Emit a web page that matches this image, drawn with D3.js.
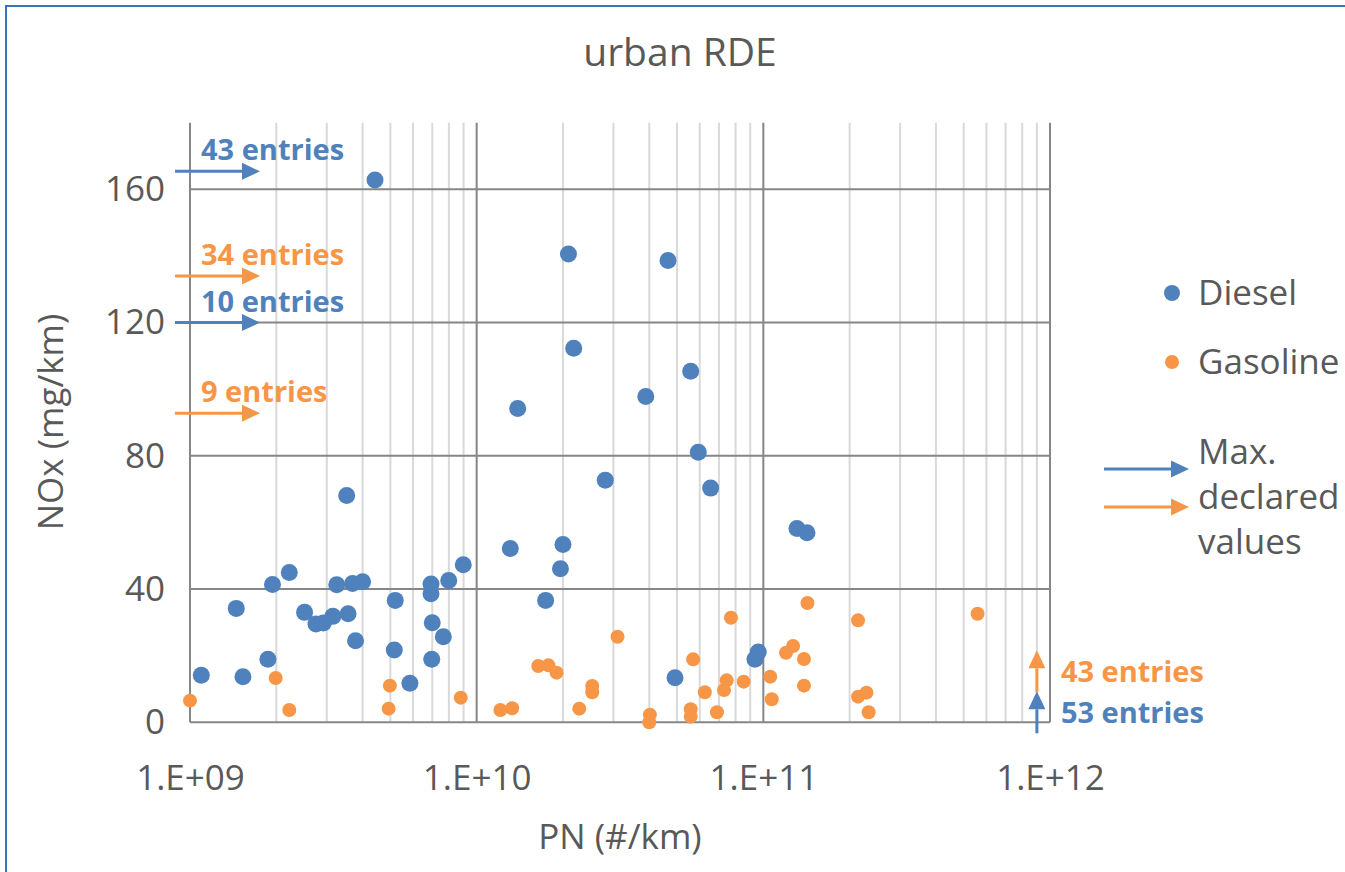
<!DOCTYPE html>
<html>
<head>
<meta charset="utf-8">
<script src="https://cdn.jsdelivr.net/npm/d3@7/dist/d3.min.js"></script>
<style>
body { margin: 0; background: #fff; }
text { font-family: "Open Sans", sans-serif; fill: #595959; }
</style>
</head>
<body>
<svg id="svg1" width="1345" height="872"></svg>
<script>
// PN (#/km) and NOx (mg/km)
var dieselPN = [4.42e9, 2.09e10, 4.65e10, 2.18e10, 5.58e10, 3.89e10, 1.39e10, 5.93e10, 6.55e10, 2.81e10,
    3.52e9, 1.31e11, 1.42e11, 2.0e10, 1.31e10, 1.96e10, 1.74e10, 8.98e9, 2.22e9, 1.94e9,
    3.25e9, 3.69e9, 4.0e9, 6.93e9, 6.93e9, 7.99e9, 1.45e9, 2.51e9, 2.75e9, 2.92e9,
    3.15e9, 3.56e9, 5.2e9, 7.0e9, 7.65e9, 3.78e9, 5.16e9, 6.97e9, 1.87e9, 1.095e9,
    1.53e9, 5.85e9, 4.92e10, 9.6e10, 9.35e10];
var dieselNOx = [162.8, 140.6, 138.6, 112.3, 105.4, 97.8, 94.2, 81.1, 70.3, 72.7,
    68.1, 58.2, 56.9, 53.4, 52.2, 46.1, 36.6, 47.3, 45.0, 41.4,
    41.3, 41.7, 42.2, 41.5, 38.6, 42.6, 34.2, 33.0, 29.5, 29.8,
    31.8, 32.6, 36.6, 29.9, 25.7, 24.5, 21.7, 18.9, 18.9, 14.1,
    13.7, 11.7, 13.4, 21.1, 18.9];

var gasolinePN = [1.0e9, 1.99e9, 2.22e9, 4.98e9, 4.93e9, 8.8e9, 1.21e10, 1.33e10, 1.64e10, 1.78e10,
    1.9e10, 2.28e10, 2.53e10, 2.53e10, 3.1e10, 4.02e10, 4.0e10, 5.58e10, 5.58e10, 5.69e10,
    6.25e10, 6.89e10, 7.29e10, 7.45e10, 7.71e10, 8.54e10, 1.057e11, 1.07e11, 1.2e11, 1.27e11,
    1.386e11, 1.386e11, 1.425e11, 2.14e11, 2.14e11, 2.29e11, 2.33e11, 5.59e11];
var gasolineNOx = [6.5, 13.3, 3.7, 11.0, 4.1, 7.4, 3.7, 4.2, 16.9, 17.1,
    14.9, 4.1, 10.9, 9.0, 25.7, 2.3, 0, 3.9, 1.7, 18.9,
    9.0, 3.0, 9.7, 12.6, 31.4, 12.2, 13.7, 6.9, 20.9, 22.9,
    19.0, 11.0, 35.8, 30.6, 7.7, 8.9, 3.0, 32.6];

// max declared NOx values (arrows on the left)
var declaredNOx = [165.4, 134, 120, 92.8];
var declaredFuel = ['Diesel', 'Gasoline', 'Diesel', 'Gasoline'];
var declaredLabel = ['43 entries', '34 entries', '10 entries', '9 entries'];

// entries beyond the right edge (arrows at the bottom right)
var offChartFuel = ['Diesel', 'Gasoline'];
var offChartLabel = ['53 entries', '43 entries'];

var yTicks = [0, 40, 80, 120, 160];
var xTicks = [1e9, 1e10, 1e11, 1e12];

var colors = {Diesel: '#4f81bd', Gasoline: '#f79646'};

var svg = d3.select('#svg1');

// frame
svg.append('rect')
    .attr('x', 6).attr('y', 6)
    .attr('width', 1400).attr('height', 900)
    .attr('fill', 'none')
    .attr('stroke', '#3d72b4')
    .attr('stroke-width', 2);

var plotLeft = 190, plotRight = 1050, plotTop = 122.7, plotBottom = 722.3;

var scaleX = d3.scaleLog().domain([1e9, 1e12]).range([plotLeft, plotRight]);
var scaleY = d3.scaleLinear().domain([0, 180]).range([plotBottom, plotTop]);

// minor vertical grid (2..9 of each decade)
var minor = scaleX.ticks().filter(function(d){ return xTicks.indexOf(d) < 0; });
svg.append('g').selectAll('line')
    .data(minor)
    .enter().append('line')
    .attr('x1', function(d){ return scaleX(d); })
    .attr('x2', function(d){ return scaleX(d); })
    .attr('y1', plotTop).attr('y2', plotBottom)
    .attr('stroke', '#d9d9d9')
    .attr('stroke-width', 2);

// major grid
svg.append('g').selectAll('line')
    .data(xTicks)
    .enter().append('line')
    .attr('x1', function(d){ return scaleX(d); })
    .attr('x2', function(d){ return scaleX(d); })
    .attr('y1', plotTop).attr('y2', plotBottom)
    .attr('stroke', '#868686')
    .attr('stroke-width', 2);

svg.append('g').selectAll('line')
    .data(yTicks)
    .enter().append('line')
    .attr('x1', plotLeft).attr('x2', plotRight)
    .attr('y1', function(d){ return scaleY(d); })
    .attr('y2', function(d){ return scaleY(d); })
    .attr('stroke', '#868686')
    .attr('stroke-width', 2);

// axes (labels only, the lines come from the grid)
var xAxis = svg.append('g')
    .attr('transform', 'translate(0,' + plotBottom + ')')
    .call(d3.axisBottom(scaleX).tickValues(xTicks).tickSize(0)
        .tickFormat(function(d){ return '1.E+' + String(Math.round(Math.log10(d))).padStart(2, '0'); }));
var yAxis = svg.append('g')
    .attr('transform', 'translate(' + plotLeft + ',0)')
    .call(d3.axisLeft(scaleY).tickValues(yTicks).tickSize(0).tickPadding(25));
[xAxis, yAxis].forEach(function(a){
    a.select('.domain').remove();
    a.selectAll('text').attr('font-size', 35).style('fill', '#595959').attr('font-family', '"Open Sans", sans-serif');
});
xAxis.selectAll('text').attr('dy', 0).attr('y', 68);

// titles
svg.append('text').attr('x', 680).attr('y', 66).attr('text-anchor', 'middle')
    .attr('font-size', 39).text('urban RDE');
svg.append('text').attr('x', 620).attr('y', 849).attr('text-anchor', 'middle')
    .attr('font-size', 35).text('PN (#/km)');
svg.append('text').attr('transform', 'translate(63,422) rotate(-90)').attr('text-anchor', 'middle')
    .attr('font-size', 35).text('NOx (mg/km)');

// points
svg.append('g').selectAll('circle')
    .data(dieselPN)
    .enter().append('circle')
    .attr('cx', function(d){ return scaleX(d); })
    .attr('cy', function(d, i){ return scaleY(dieselNOx[i]); })
    .attr('r', 8.5)
    .attr('fill', colors.Diesel);

svg.append('g').selectAll('circle')
    .data(gasolinePN)
    .enter().append('circle')
    .attr('cx', function(d){ return scaleX(d); })
    .attr('cy', function(d, i){ return scaleY(gasolineNOx[i]); })
    .attr('r', 7)
    .attr('fill', colors.Gasoline);

// arrow helper: line with a triangle head pointing at (x2,y2)
function arrow(g, x1, y1, x2, y2, color) {
    var ang = Math.atan2(y2 - y1, x2 - x1), L = 18, W = 8.5;
    var bx = x2 - L * Math.cos(ang), by = y2 - L * Math.sin(ang);
    g.append('line').attr('x1', x1).attr('y1', y1).attr('x2', bx).attr('y2', by)
        .attr('stroke', color).attr('stroke-width', 3);
    g.append('path')
        .attr('d', 'M' + x2 + ',' + y2 +
            'L' + (bx - W * Math.sin(ang)) + ',' + (by + W * Math.cos(ang)) +
            'L' + (bx + W * Math.sin(ang)) + ',' + (by - W * Math.cos(ang)) + 'Z')
        .attr('fill', color);
}

// max declared values
var ann = svg.append('g');
declaredNOx.forEach(function(v, i){
    var c = colors[declaredFuel[i]];
    arrow(ann, plotLeft - 15, scaleY(v), plotLeft + 70, scaleY(v), c);
    ann.append('text')
        .attr('x', plotLeft + 11).attr('y', scaleY(v) - 11)
        .attr('font-size', 29).attr('font-weight', 'bold')
        .style('fill', c)
        .text(declaredLabel[i]);
});

// off-chart entries (PN beyond the axis), stacked upwards from below the axis
var xr = scaleX(9e11);
offChartFuel.forEach(function(f, i){
    var c = colors[f];
    var y0 = plotBottom + 11 - i * 41;
    arrow(ann, xr, y0, xr, y0 - 42, c);
    ann.append('text')
        .attr('x', xr + 24).attr('y', y0 - 10)
        .attr('font-size', 29).attr('font-weight', 'bold')
        .style('fill', c)
        .text(offChartLabel[i]);
});

// legend
var lg = svg.append('g');
lg.append('circle').attr('cx', 1172).attr('cy', 293).attr('r', 8).attr('fill', colors.Diesel);
lg.append('text').attr('x', 1198).attr('y', 293).attr('dy', '0.35em').attr('font-size', 35).text('Diesel');
lg.append('circle').attr('cx', 1172).attr('cy', 362).attr('r', 7).attr('fill', colors.Gasoline);
lg.append('text').attr('x', 1198).attr('y', 362).attr('dy', '0.35em').attr('font-size', 35).text('Gasoline');
arrow(lg, 1104, 469, 1189, 469, colors.Diesel);
arrow(lg, 1104, 507, 1189, 507, colors.Gasoline);
['Max.', 'declared', 'values'].forEach(function(t, i){
    lg.append('text').attr('x', 1198).attr('y', 452 + i * 45).attr('dy', '0.35em')
        .attr('font-size', 35).text(t);
});
</script>
</body>
</html>
